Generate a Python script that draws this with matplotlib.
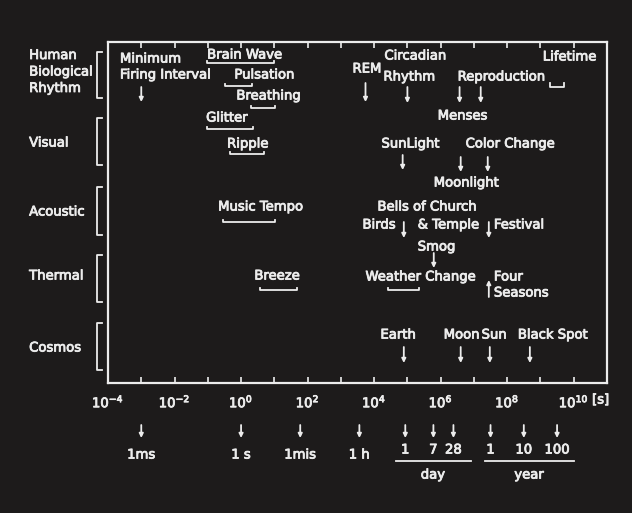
import matplotlib
matplotlib.use('Agg')
import matplotlib.pyplot as plt
import matplotlib.transforms as mtransforms
import matplotlib.patheffects as pe

BG = '#1d1b1b'
FG = '#ececec'
FONT = 'DejaVu Sans'
FS = 9.5

# Rhythm categories down the left side
categories = ['Human\nBiological\nRhythm', 'Visual', 'Acoustic', 'Thermal', 'Cosmos']

# Single periods marked with an arrow [s]
event_names = ['Minimum Firing Interval', 'REM', 'Circadian Rhythm', 'Menses',
               'Reproduction', 'SunLight', 'Moonlight', 'Color Change', 'Birds',
               'Bells of Church & Temple / Smog', 'Festival', 'Four Seasons',
               'Earth', 'Moon', 'Sun', 'Black Spot']
event_seconds = [1.0e-3, 5.5e3, 1.0e5, 3.7e6,
                 1.6e7, 7.2e4, 4.0e6, 2.6e7, 7.8e4,
                 6.2e5, 2.8e7, 2.8e7,
                 7.8e4, 4.0e6, 3.0e7, 4.8e8]

# Periods that cover a range [s]
span_names = ['Brain Wave', 'Pulsation', 'Breathing', 'Lifetime', 'Glitter',
              'Ripple', 'Music Tempo', 'Breeze', 'Weather Change']
span_low = [0.095, 0.33, 2.0, 1.9e9, 0.095, 0.47, 0.29, 3.8, 2.7e4]
span_high = [10.0, 2.2, 10.7, 5.0e9, 2.3, 5.0, 10.7, 49.0, 2.2e5]

# Reference scale under the axis
scale_labels = ['1ms', '1 s', '1mis', '1 h', '1', '7', '28', '1', '10', '100']
scale_seconds = [1e-3, 1.0, 60.0, 3600.0, 86400.0, 6.048e5, 2.419e6,
                 3.156e7, 3.156e8, 3.156e9]
unit_groups = ['day', 'year']
unit_low = [4.4e4, 2.1e7]
unit_high = [7.9e6, 1.0e10]

# ---- layout (rows are measured downward from the top of the figure) ----
cat_rows = [(52, 98), (118, 165), (187, 235), (255, 302), (323, 370)]
cat_text_y = [72, 143, 212, 276, 348]

event_rows = [(87, 102), (83, 102), (87, 103), (87, 103), (87, 103),
              (155, 170), (157, 172), (157, 172), (222, 238), (253, 268),
              (222, 238), (280, 297), (347, 363), (347, 363), (347, 363),
              (347, 363)]
event_up = ['Four Seasons']

span_rows = [63, 86, 108, 87, 129, 154, 222, 290, 290]

# text, log10 of left edge, row
labels = [
    ('Minimum', -3.64, 59), ('Firing Interval', -3.64, 75),
    ('Brain Wave', -1.02, 55), ('Pulsation', -0.2, 75), ('Breathing', -0.14, 96),
    ('REM', 3.35, 69), ('Circadian', 4.31, 56), ('Rhythm', 4.28, 77),
    ('Reproduction', 6.51, 77), ('Menses', 5.91, 116), ('Lifetime', 9.07, 57),
    ('Glitter', -1.05, 118), ('Ripple', -0.42, 144), ('SunLight', 4.22, 144),
    ('Color Change', 6.75, 144), ('Moonlight', 5.79, 183),
    ('Music Tempo', -0.69, 207), ('Bells of Church', 4.1, 207),
    ('& Temple', 5.31, 225), ('Birds', 3.65, 225), ('Festival', 7.6, 225),
    ('Smog', 5.31, 247), ('Breeze', 0.4, 276), ('Weather Change', 3.74, 277),
    ('Four', 7.6, 277), ('Seasons', 7.6, 293), ('Earth', 4.19, 335),
    ('Moon', 6.09, 335), ('Sun', 7.23, 335), ('Black Spot', 8.32, 335),
]

W, H = 632, 513
fig = plt.figure(figsize=(W / 100, H / 100), dpi=100, facecolor=BG)
ax = fig.add_axes([108 / W, (H - 383) / H, 499 / W, 341 / H], facecolor=BG)
ax.set_xscale('log')
ax.set_xlim(1e-4, 1e11)
ax.set_ylim(383, 42)

for s in ax.spines.values():
    s.set_color(FG)
    s.set_linewidth(1.6)

ax.set_xticks([10.0 ** k for k in range(-4, 12)])
ax.set_xticklabels([])
ax.minorticks_off()
ax.tick_params(axis='x', which='major', direction='in', length=4, width=1.2,
               color=FG, top=True, bottom=True)
ax.set_yticks([])

# lettering is drawn slightly heavier than the plain font
heavy = [pe.withStroke(linewidth=0.6, foreground=FG)]
txt = dict(color=FG, fontsize=FS, family=FONT, clip_on=False, path_effects=heavy)

# decade labels below the frame
for k in range(-4, 11, 2):
    ax.text(10.0 ** k, 402, f'$10^{{{k}}}$', ha='center', va='center', **txt)
ax.text(10.0 ** 10.55, 400, '[s]', ha='left', va='center', **txt)

# category labels with their brackets
lblend = mtransforms.blended_transform_factory(ax.transAxes, ax.transData)
for name, (y0, y1), ty in zip(categories, cat_rows, cat_text_y):
    ax.text(-0.158, ty, name, ha='left', va='center', transform=lblend,
            linespacing=1.35, **txt)
    ax.plot([-0.012, -0.022, -0.022, -0.012], [y0, y0, y1, y1], color=FG,
            lw=1.3, transform=lblend, clip_on=False)

arrow_kw = dict(arrowstyle='-|>', color=FG, lw=1.3, mutation_scale=6,
                shrinkA=0, shrinkB=0)

for name, sec, (y0, y1) in zip(event_names, event_seconds, event_rows):
    if name in event_up:
        ax.annotate('', xy=(sec, y0), xytext=(sec, y1), arrowprops=arrow_kw)
    else:
        ax.annotate('', xy=(sec, y1), xytext=(sec, y0), arrowprops=arrow_kw)

for name, lo, hi, y in zip(span_names, span_low, span_high, span_rows):
    tick = 4 if name == 'Lifetime' else 2.5
    ax.plot([lo, lo, hi, hi], [y - tick, y, y, y - tick], color=FG, lw=1.3)

for text, lx, y in labels:
    ax.text(10.0 ** lx, y, text, ha='left', va='center', **txt)

# reference scale: arrows, labels and day/year groupings
for lab, sec in zip(scale_labels, scale_seconds):
    ax.annotate('', xy=(sec, 438), xytext=(sec, 425), arrowprops=arrow_kw,
                annotation_clip=False)
    y = 450 if lab.isdigit() else 455
    ax.text(sec, y, lab, ha='center', va='center', **txt)

for name, lo, hi in zip(unit_groups, unit_low, unit_high):
    ax.plot([lo, hi], [461, 461], color=FG, lw=1.3, clip_on=False)
    ax.text((lo * hi) ** 0.5, 475, name, ha='center', va='center', **txt)

fig.savefig('out.png', dpi=100, facecolor=BG)
